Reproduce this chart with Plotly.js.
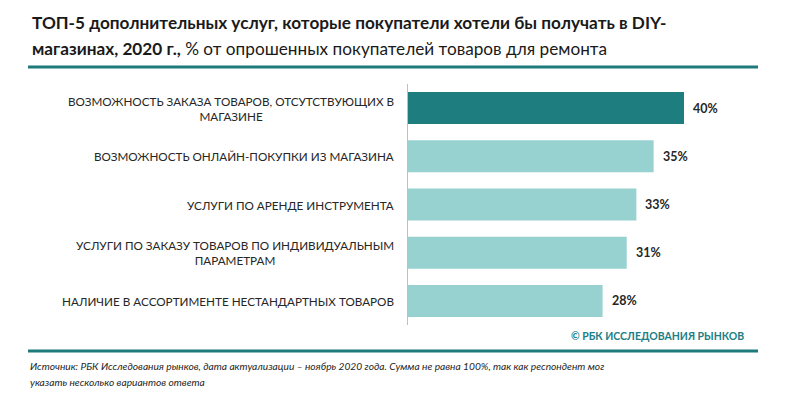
<!DOCTYPE html>
<html>
<head>
<meta charset="utf-8">
<script src="https://cdn.plot.ly/plotly-3.0.1.min.js"></script>
<style>html,body{margin:0;padding:0;background:#fff;}#chart{width:804px;height:394px;}</style>
</head>
<body>
<div id="chart"></div>
<script>
// ---- data ----
var categories = [
  "ВОЗМОЖНОСТЬ ЗАКАЗА ТОВАРОВ, ОТСУТСТВУЮЩИХ В<br>МАГАЗИНЕ",
  "ВОЗМОЖНОСТЬ ОНЛАЙН-ПОКУПКИ ИЗ МАГАЗИНА",
  "УСЛУГИ ПО АРЕНДЕ ИНСТРУМЕНТА",
  "УСЛУГИ ПО ЗАКАЗУ ТОВАРОВ ПО ИНДИВИДУАЛЬНЫМ<br>ПАРАМЕТРАМ",
  "НАЛИЧИЕ В АССОРТИМЕНТЕ НЕСТАНДАРТНЫХ ТОВАРОВ"
];
var values = [40, 35.6, 33.1, 31.7, 28.2];
var valueLabels = ["40%", "35%", "33%", "31%", "28%"];
var barColors = ["#1e7d7f", "#97d2d0", "#97d2d0", "#97d2d0", "#97d2d0"];
var titleLine1 = "<b>ТОП-5 дополнительных услуг, которые покупатели хотели бы получать в DIY-</b>";
var titleLine2 = "<b>магазинах, 2020 г.,</b> % от опрошенных покупателей товаров для ремонта";
var sourceLine1 = "<i>Источник: РБК Исследования рынков, дата актуализации – ноябрь 2020 года. Сумма не равна 100%, так как респондент мог</i>";
var sourceLine2 = "<i>указать несколько вариантов ответа</i>";
var brandText = "<b>© РБК ИССЛЕДОВАНИЯ РЫНКОВ</b>";

// ---- layout geometry ----
var W = 804, H = 394;
var L = 408, R = 51, T = 84, B = 69;
var pw = W - L - R, ph = H - T - B;
function px(x) { return (x - L) / pw; }
function py(y) { return (H - B - y) / ph; }

var font = "Lato, 'Open Sans', sans-serif";

var annotations = [];
categories.forEach(function (c, i) {
  annotations.push({
    x: px(396), xref: "paper", y: c, yref: "y",
    text: c, showarrow: false, xanchor: "right", yanchor: "middle", align: "center",
    font: {family: font, size: 11.7, color: "#262626"}
  });
  annotations.push({
    x: values[i], xref: "x", y: c, yref: "y",
    text: "<b>" + valueLabels[i] + "</b>", showarrow: false, xanchor: "left", xshift: 7,
    font: {family: font, size: 12.5, color: "#262626"}
  });
});
annotations.push({x: px(30), y: py(22), xref: "paper", yref: "paper", text: titleLine1, showarrow: false,
  xanchor: "left", yanchor: "middle", font: {family: font, size: 17.2, color: "#1a1a1a"}});
annotations.push({x: px(30), y: py(48), xref: "paper", yref: "paper", text: titleLine2, showarrow: false,
  xanchor: "left", yanchor: "middle", font: {family: font, size: 17.2, color: "#1a1a1a"}});
annotations.push({x: px(746), y: py(336), xref: "paper", yref: "paper", text: brandText, showarrow: false,
  xanchor: "right", yanchor: "middle", font: {family: font, size: 10.5, color: "#217e86"}});
annotations.push({x: px(28), y: py(366), xref: "paper", yref: "paper", text: sourceLine1, showarrow: false,
  xanchor: "left", yanchor: "middle", font: {family: font, size: 10.2, color: "#262626"}});
annotations.push({x: px(28), y: py(382), xref: "paper", yref: "paper", text: sourceLine2, showarrow: false,
  xanchor: "left", yanchor: "middle", font: {family: font, size: 10.2, color: "#262626"}});

var shapes = [
  {type: "line", xref: "paper", yref: "paper", x0: px(28), x1: px(758), y0: py(67), y1: py(67),
   line: {color: "#1f7a7c", width: 3}},
  {type: "line", xref: "paper", yref: "paper", x0: px(28), x1: px(758), y0: py(351), y1: py(351),
   line: {color: "#1f7a7c", width: 3}}
];

var trace = {
  type: "bar", orientation: "h",
  x: values, y: categories,
  marker: {color: barColors},
  hoverinfo: "none"
};

var layout = {
  width: W, height: H,
  margin: {l: L, r: R, t: T, b: B, pad: 0},
  paper_bgcolor: "#ffffff", plot_bgcolor: "#ffffff",
  showlegend: false,
  bargap: 0.336,
  xaxis: {range: [0, 50], visible: false, fixedrange: true},
  yaxis: {autorange: "reversed", showticklabels: false, ticks: "", showgrid: false,
          showline: true, linecolor: "#bfbfbf", linewidth: 1, zeroline: false, fixedrange: true},
  annotations: annotations,
  shapes: shapes
};

Plotly.newPlot("chart", [trace], layout, {displayModeBar: false, staticPlot: true});
</script>
</body>
</html>
